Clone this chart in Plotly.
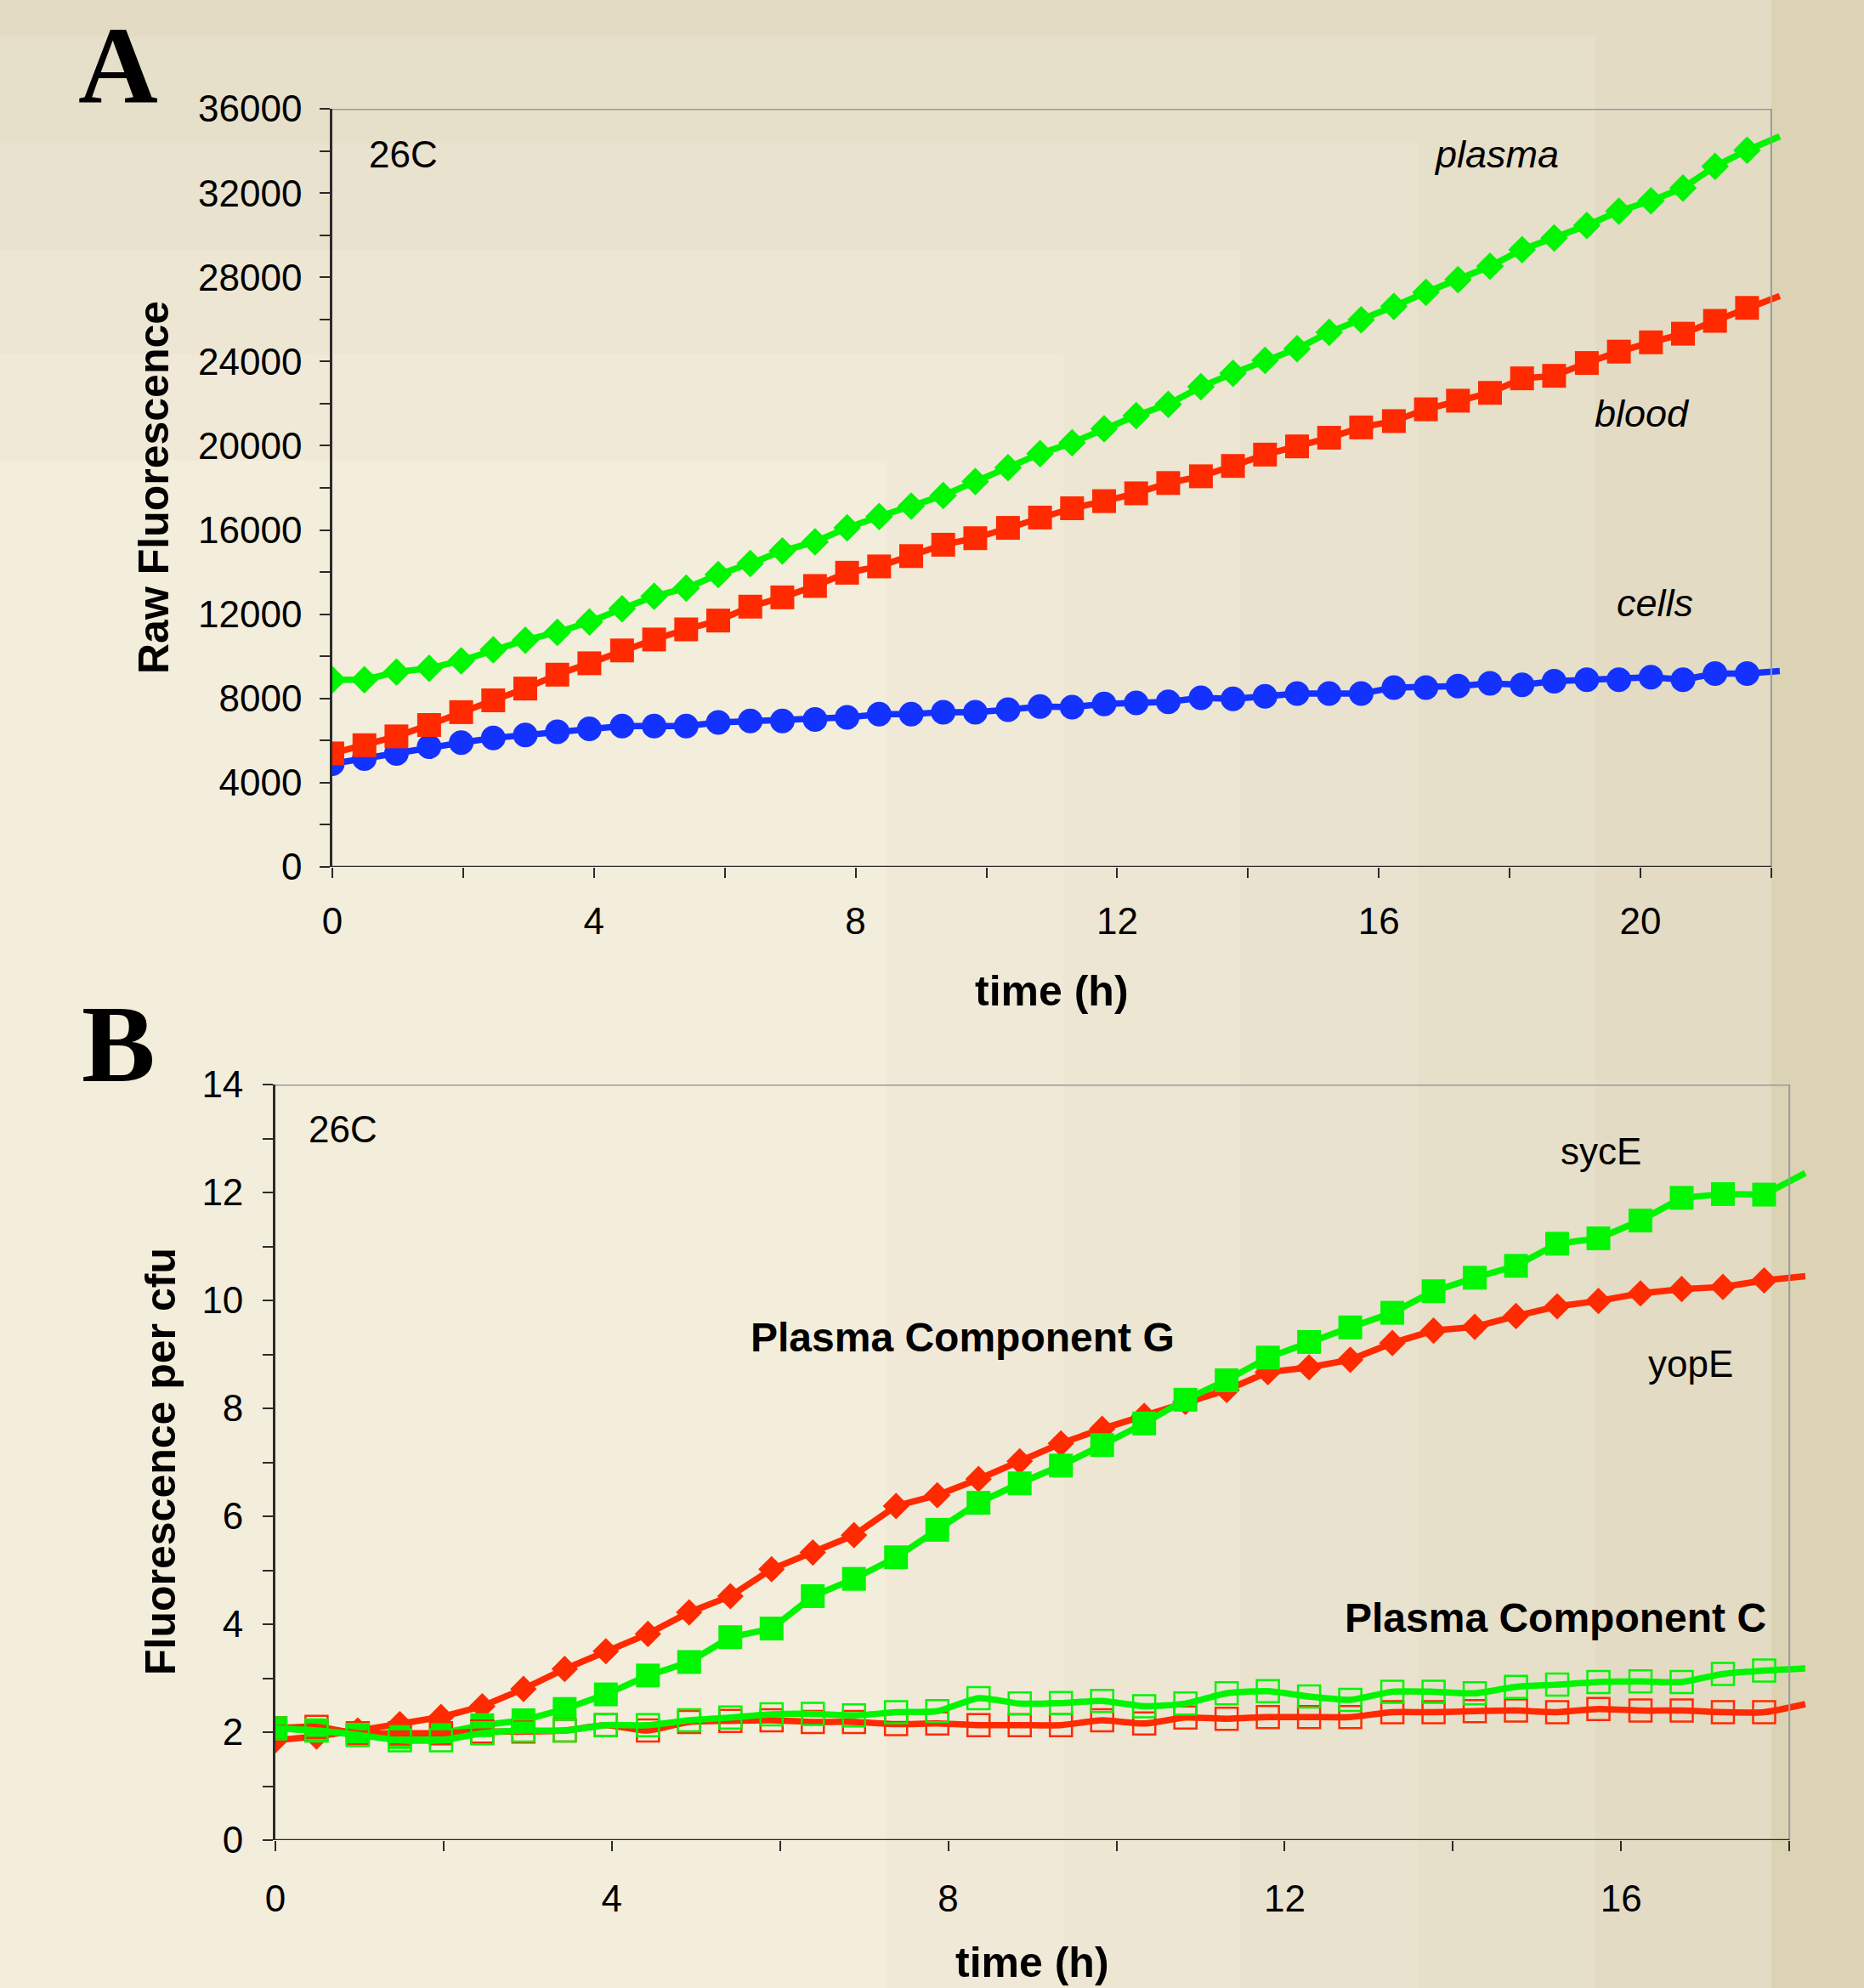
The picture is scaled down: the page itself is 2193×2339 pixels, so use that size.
import plotly.graph_objects as go

W, H = 2193, 2339

# Sampling times (h); plate read roughly every 29.5 min
hours = [0.00, 0.49, 0.98, 1.48, 1.97, 2.46, 2.95, 3.44, 3.93, 4.43,
         4.92, 5.41, 5.90, 6.39, 6.88, 7.38, 7.87, 8.36, 8.85, 9.34,
         9.83, 10.33, 10.82, 11.31, 11.80, 12.29, 12.78, 13.28, 13.77, 14.26,
         14.75, 15.24, 15.73, 16.23, 16.72, 17.21, 17.70, 18.19, 18.68, 19.18,
         19.67, 20.16, 20.65, 21.14, 21.63, 22.13]

# Panel A: raw fluorescence at 26C
plasma = [8890, 8890, 9250, 9430, 9790, 10310, 10770, 11140, 11630, 12260,
          12850, 13240, 13880, 14410, 15000, 15440, 16100, 16640, 17130, 17640,
          18300, 18960, 19620, 20140, 20800, 21430, 21970, 22800, 23440, 24050,
          24610, 25390, 25980, 26620, 27280, 27890, 28520, 29310, 29870, 30460,
          31140, 31630, 32240, 33270, 34030, 34690]
blood = [5390, 5780, 6200, 6740, 7350, 7910, 8470, 9130, 9670, 10280,
         10800, 11280, 11700, 12360, 12800, 13340, 13970, 14270, 14760, 15300,
         15610, 16100, 16590, 17030, 17370, 17740, 18230, 18550, 19040, 19580,
         19970, 20380, 20870, 21170, 21730, 22140, 22510, 23200, 23320, 23930,
         24470, 24910, 25320, 25930, 26550, 27110]
cells = [4900, 5150, 5390, 5710, 5900, 6120, 6270, 6420, 6560, 6690,
         6690, 6690, 6860, 6930, 6930, 7000, 7100, 7250, 7250, 7350,
         7350, 7470, 7620, 7590, 7740, 7790, 7840, 8030, 7980, 8100,
         8230, 8230, 8230, 8520, 8520, 8590, 8720, 8650, 8820, 8890,
         8890, 9010, 8890, 9180, 9180, 9300]

# Panel B: fluorescence per cfu at 26C
hours_b = hours[:38]
syce_g = [2.07, 2.03, 1.95, 1.91, 1.98, 2.13, 2.22, 2.43, 2.70, 3.05,
          3.30, 3.76, 3.92, 4.52, 4.84, 5.24, 5.75, 6.25, 6.61, 6.94,
          7.32, 7.72, 8.16, 8.52, 8.94, 9.23, 9.50, 9.77, 10.17, 10.42,
          10.64, 11.05, 11.15, 11.48, 11.90, 11.97, 11.96, 12.36]
yope_g = [1.85, 1.92, 2.03, 2.15, 2.28, 2.48, 2.80, 3.17, 3.50, 3.82,
          4.22, 4.52, 5.02, 5.33, 5.65, 6.19, 6.39, 6.69, 7.02, 7.35,
          7.62, 7.86, 8.12, 8.34, 8.67, 8.76, 8.90, 9.21, 9.44, 9.51,
          9.71, 9.89, 9.99, 10.13, 10.21, 10.25, 10.37, 10.45]
syce_c = [2.07, 2.03, 1.95, 1.85, 1.85, 1.98, 2.03, 2.03, 2.13, 2.13,
          2.22, 2.27, 2.33, 2.34, 2.31, 2.37, 2.39, 2.63, 2.53, 2.54,
          2.58, 2.48, 2.53, 2.72, 2.76, 2.66, 2.60, 2.75, 2.75, 2.72,
          2.84, 2.88, 2.93, 2.94, 2.93, 3.08, 3.14, 3.18]
yope_c = [2.07, 2.10, 1.98, 1.98, 1.98, 2.01, 2.01, 2.03, 2.13, 2.03,
          2.19, 2.21, 2.22, 2.19, 2.19, 2.15, 2.16, 2.13, 2.13, 2.13,
          2.22, 2.16, 2.27, 2.25, 2.28, 2.28, 2.28, 2.37, 2.37, 2.39,
          2.40, 2.37, 2.43, 2.40, 2.40, 2.37, 2.37, 2.52]

GREEN = "#00f500"
RED = "#ff2a00"
BLUE = "#1432ff"
AXIS = "#2b2b2b"
FRAME = "#9a9a9a"
SANS = "Liberation Sans, Arial, sans-serif"
SERIF = "Liberation Serif, Times New Roman, serif"
LW = 7.5

X_END_A, X_END_B = 22, 18


def px_x(p):
    return p / W


def px_y(p):
    return 1 - p / H


def sizes(n, s):
    # the final reading lies past the frame: line only, no marker
    return [s] * (n - 1) + [0]


def filled(symbol, n, s, color):
    return dict(symbol=symbol, size=sizes(n, s), color=color, opacity=1,
                line=dict(width=0, color=color))


def hollow(n, s, color):
    return dict(symbol="square-open", size=sizes(n, s), color=color, opacity=1,
                line=dict(width=2.5, color=color))


fig = go.Figure()
na = len(hours)

# ---- panel A ----
fig.add_trace(go.Scatter(x=hours, y=cells, mode="lines+markers", xaxis="x", yaxis="y",
                         line=dict(color=BLUE, width=LW),
                         marker=filled("circle", na, 29, BLUE)))
fig.add_trace(go.Scatter(x=hours, y=blood, mode="lines+markers", xaxis="x", yaxis="y",
                         line=dict(color=RED, width=LW),
                         marker=filled("square", na, 28, RED)))
fig.add_trace(go.Scatter(x=hours, y=plasma, mode="lines+markers", xaxis="x", yaxis="y",
                         line=dict(color=GREEN, width=LW),
                         marker=filled("diamond", na, 25, GREEN)))

# ---- panel B ----
nb = len(hours_b)
fig.add_trace(go.Scatter(x=hours_b, y=yope_g, mode="lines+markers", xaxis="x2", yaxis="y2",
                         line=dict(color=RED, width=LW),
                         marker=filled("diamond", nb, 24, RED)))
fig.add_trace(go.Scatter(x=hours_b, y=syce_g, mode="lines+markers", xaxis="x2", yaxis="y2",
                         line=dict(color=GREEN, width=LW),
                         marker=filled("square", nb, 28, GREEN)))
fig.add_trace(go.Scatter(x=hours_b, y=yope_c, mode="lines+markers", xaxis="x2", yaxis="y2",
                         line=dict(color=RED, width=LW, shape="spline", smoothing=0.6),
                         marker=hollow(nb, 26, RED)))
fig.add_trace(go.Scatter(x=hours_b, y=syce_c, mode="lines+markers", xaxis="x2", yaxis="y2",
                         line=dict(color=GREEN, width=LW, shape="spline", smoothing=0.6),
                         marker=hollow(nb, 26, GREEN)))

tick_common = dict(ticks="outside", ticklen=12, tickwidth=2, tickcolor=AXIS, automargin=False,
                   showgrid=False, zeroline=False, tickfont=dict(family=SANS, size=44, color="black"))


def x_ticks(end):
    vals = list(range(0, end + 1, 2))
    text = [str(v) if v % 4 == 0 else "" for v in vals]
    return vals, text


xa_vals, xa_text = x_ticks(X_END_A)
xb_vals, xb_text = x_ticks(X_END_B)

fig.update_layout(
    width=W, height=H,
    margin=dict(l=0, r=0, t=0, b=0, pad=0, autoexpand=False),
    paper_bgcolor="#dcd3b5",
    plot_bgcolor="rgba(0,0,0,0)",
    showlegend=False,
    xaxis=dict(domain=[px_x(391), px_x(391 + 22.2 * 76.95)], range=[0, 22.2], anchor="y",
               tickmode="array", tickvals=xa_vals, ticktext=xa_text, showline=False,
               ticklabelstandoff=13, **tick_common),
    yaxis=dict(domain=[px_y(1020), px_y(128)], range=[0, 36000], anchor="x",
               tickmode="linear", tick0=0, dtick=4000, tickformat="d",
               showline=True, linecolor=AXIS, linewidth=2.5,
               minor=dict(dtick=2000, ticks="outside", ticklen=12, tickwidth=2, tickcolor=AXIS),
               ticklabelstandoff=12, **tick_common),
    xaxis2=dict(domain=[px_x(323.9), px_x(323.9 + 18.25 * 98.96)], range=[0, 18.25], anchor="y2",
                tickmode="array", tickvals=xb_vals, ticktext=xb_text, showline=False,
                ticklabelstandoff=18, **tick_common),
    yaxis2=dict(domain=[px_y(2165), px_y(1276)], range=[0, 14], anchor="x2",
                tickmode="linear", tick0=0, dtick=2, tickformat="d",
                showline=True, linecolor=AXIS, linewidth=2.5,
                minor=dict(dtick=1, ticks="outside", ticklen=12, tickwidth=2, tickcolor=AXIS),
                ticklabelstandoff=14, **tick_common),
)

# ---- stepped background ----
bands = [
    (2084, 0, "#e3dbc4"),
    (1877, 43, "#e6dfc9"),
    (1668, 168, "#e9e2ce"),
    (1459, 294, "#ece6d3"),
    (1251, 417, "#f0e9d7"),
    (1043, 542, "#f3eddb"),
]
shapes = []
for xr, yt, col in bands:
    shapes.append(dict(type="rect", xref="paper", yref="paper", layer="below",
                       x0=0, x1=px_x(xr), y0=0, y1=px_y(yt),
                       fillcolor=col, line=dict(width=0)))

# ---- plot frames: dark left/bottom axes, grey top/right border ----
for xr, yr, xend, ytop in (("x", "y", X_END_A, 36000), ("x2", "y2", X_END_B, 14)):
    shapes.append(dict(type="line", xref=xr, yref=yr, x0=0, x1=xend, y0=ytop, y1=ytop,
                       line=dict(color=FRAME, width=3)))
    shapes.append(dict(type="line", xref=xr, yref=yr, x0=xend, x1=xend, y0=0, y1=ytop,
                       line=dict(color=FRAME, width=2)))
    shapes.append(dict(type="line", xref=xr, yref=yr, x0=0, x1=xend, y0=0, y1=0,
                       line=dict(color=AXIS, width=2.5)))
fig.update_layout(shapes=shapes)


def label(text, x, y, size, family=SANS, angle=0):
    fig.add_annotation(text=text, x=px_x(x), y=px_y(y), xref="paper", yref="paper",
                       showarrow=False, xanchor="center", yanchor="middle", textangle=angle,
                       font=dict(family=family, size=size, color="black"))


# panel A labels
label("<b>A</b>", 139, 76, 130, family=SERIF)
label("26C", 474, 182, 44)
label("<i>plasma</i>", 1760, 181, 45)
label("<i>blood</i>", 1932, 486, 45)
label("<i>cells</i>", 1947, 709, 45)
label("<b>Raw Fluorescence</b>", 181, 574, 50, angle=-90)
label("<b>time (h)</b>", 1237, 1166, 50)

# panel B labels
label("<b>B</b>", 139, 1228, 130, family=SERIF)
label("26C", 403, 1328, 44)
label("sycE", 1883, 1354, 44)
label("yopE", 1989, 1604, 44)
label("<b>Plasma Component G</b>", 1132, 1573, 48)
label("<b>Plasma Component C</b>", 1830, 1903, 48)
label("<b>Fluorescence per cfu</b>", 189, 1720, 50, angle=-90)
label("<b>time (h)</b>", 1214, 2309, 50)

fig.write_html("out.html")
